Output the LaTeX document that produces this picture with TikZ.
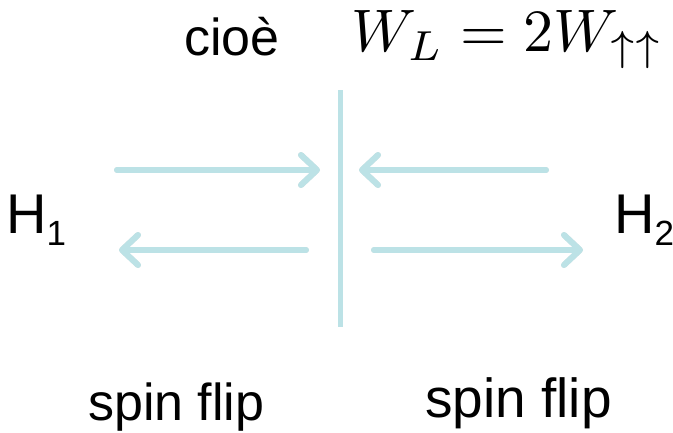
\documentclass[tikz,border=0pt]{standalone}
\usepackage{fontspec}
\setmainfont{Liberation Sans}
\usetikzlibrary{arrows.meta}
\definecolor{arrowcol}{RGB}{188,226,230}
\definecolor{shadowcol}{RGB}{200,200,200}
\tikzset{
  txt/.style={inner sep=0pt, anchor=base west, font=\fontsize{52}{60}\selectfont},
  bigtxt/.style={inner sep=0pt, anchor=base west, font=\fontsize{56}{64}\selectfont},
  conn/.style={draw=arrowcol, line width=6pt, line cap=round,
    -{Straight Barb[length=16pt,width=30pt,line width=6pt,round]}},
  shad/.style={draw=shadowcol, opacity=0.45, line width=6pt, line cap=round,
    -{Straight Barb[length=16pt,width=30pt,line width=6pt,round]}},
  wall/.style={draw=arrowcol, line width=5pt}
}
\newcommand{\hsub}[1]{\raisebox{-12pt}{\fontsize{35}{40}\selectfont #1}}
\begin{document}
\begin{tikzpicture}[x=1pt,y=-1pt]
\useasboundingbox (0,0) rectangle (673,432);
% text
\node[txt] (cioe) at (184,55) {cioè};
\node[inner sep=0pt, anchor=base west] (eq) at (351,51) {\fontsize{10}{12}\selectfont\scalebox{6}{$W_L = 2W_{\uparrow\uparrow}$}};
\node[bigtxt] (h1) at (6,233) {H\hsub{1}};
\node[bigtxt] (h2) at (614,233) {H\hsub{2}};
\node[txt] (sf1) at (88,420) {spin flip};
\node[txt, font=\fontsize{55}{62}\selectfont] (sf2) at (425,417) {spin flip};
% coordinates
\coordinate (a1s) at (117,170); \coordinate (a1e) at (320,170);
\coordinate (a2s) at (546,170); \coordinate (a2e) at (359,170);
\coordinate (a3s) at (306,250); \coordinate (a3e) at (119,250);
\coordinate (a4s) at (374,250); \coordinate (a4e) at (583,250);
\coordinate (wt) at (340,90); \coordinate (wb) at (340,327);
% shadows
\begin{scope}[shift={(1.5,3)}]
\draw[shad] (a1s) -- (a1e);
\draw[shad] (a2s) -- (a2e);
\draw[shad] (a3s) -- (a3e);
\draw[shad] (a4s) -- (a4e);
\end{scope}
% arrows
\draw[conn] (a1s) -- (a1e);
\draw[conn] (a2s) -- (a2e);
\draw[conn] (a3s) -- (a3e);
\draw[conn] (a4s) -- (a4e);
\draw[wall] (wt) -- (wb);
\end{tikzpicture}
\end{document}
